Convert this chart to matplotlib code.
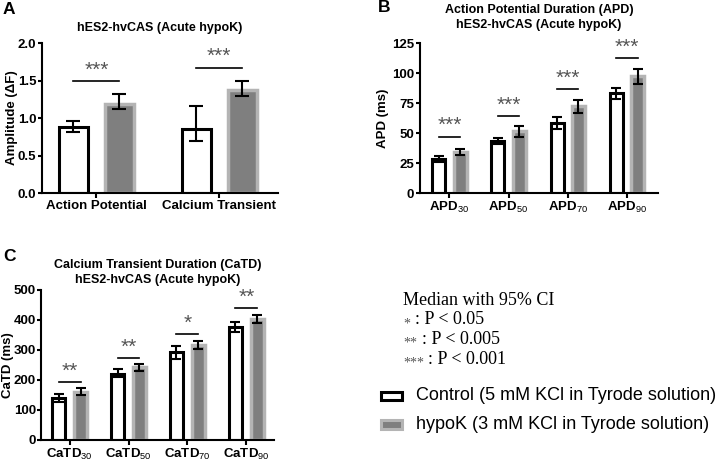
import matplotlib.pyplot as plt
import numpy as np
from matplotlib.patches import Rectangle

plt.rcParams['font.family'] = ['Liberation Sans', 'DejaVu Sans']
plt.rcParams['mathtext.fontset'] = 'custom'
plt.rcParams['mathtext.rm'] = 'Liberation Sans'
plt.rcParams['mathtext.it'] = 'Liberation Sans'
plt.rcParams['mathtext.bf'] = 'Liberation Sans:bold'

# panel A - amplitude
amp_groups = ['Action Potential', 'Calcium Transient']
amp_ctrl = [0.88, 0.85]
amp_ctrl_lo = [0.82, 0.70]
amp_ctrl_hi = [0.96, 1.16]
amp_hypo = [1.19, 1.37]
amp_hypo_lo = [1.12, 1.29]
amp_hypo_hi = [1.32, 1.50]
amp_sig = ['***', '***']
amp_sig_y = [1.49, 1.67]

# panel B - APD
apd_groups = ['APD$_{\\mathrm{30}}$', 'APD$_{\\mathrm{50}}$', 'APD$_{\\mathrm{70}}$', 'APD$_{\\mathrm{90}}$']
apd_ctrl = [28.5, 43, 58.5, 83]
apd_ctrl_lo = [26, 40.5, 53, 78]
apd_ctrl_hi = [31, 45.5, 63.5, 87.5]
apd_hypo = [34.5, 51.5, 72.5, 97.5]
apd_hypo_lo = [32, 47, 67, 91]
apd_hypo_hi = [37, 55.5, 77.5, 103.5]
apd_sig = ['***', '***', '***', '***']
apd_sig_y = [47, 64, 86.8, 112.5]

# panel C - CaTD
catd_groups = ['CaTD$_{\\mathrm{30}}$', 'CaTD$_{\\mathrm{50}}$', 'CaTD$_{\\mathrm{70}}$', 'CaTD$_{\\mathrm{90}}$']
catd_ctrl = [140, 220, 292, 377]
catd_ctrl_lo = [125, 208, 270, 360]
catd_ctrl_hi = [153, 235, 312, 392]
catd_hypo = [160, 242, 317, 403]
catd_hypo_lo = [148, 230, 302, 390]
catd_hypo_hi = [172, 253, 331, 417]
catd_sig = ['**', '**', '*', '**']
catd_sig_y = [193, 272, 352, 438]

HYPO = '#7f7f7f'
HYPO_EDGE = '#b4b4b4'
STAR = '#555555'


def panel(ax, groups, ctrl, clo, chi, hypo, hlo, hhi, sig, sigy, off, w, ylim, yticks,
          ylabel, title, xlim, cap=3.5, tpad=6, lpad=0):
    x = np.arange(len(groups))
    ax.bar(x - off, ctrl, w, color='white', edgecolor='black', linewidth=2.2, zorder=2)
    ax.bar(x + off, hypo, w, color=HYPO, edgecolor=HYPO_EDGE, linewidth=2.5, zorder=2)
    c = np.array(ctrl); h = np.array(hypo)
    ax.errorbar(x - off, c, yerr=[c - np.array(clo), np.array(chi) - c], fmt='none',
                ecolor='black', elinewidth=1.5, capsize=cap, capthick=1.5, zorder=3)
    ax.errorbar(x + off, h, yerr=[h - np.array(hlo), np.array(hhi) - h], fmt='none',
                ecolor='black', elinewidth=1.5, capsize=cap, capthick=1.5, zorder=3)
    for i in range(len(groups)):
        ax.plot([x[i] - off, x[i] + off], [sigy[i], sigy[i]], color='black', lw=1.2)
        ax.annotate(sig[i], (x[i], sigy[i]), xytext=(0, 4), textcoords='offset points',
                    ha='center', va='baseline', color=STAR, fontsize=15)
    ax.set_xlim(*xlim)
    ax.set_ylim(*ylim)
    ax.set_yticks(yticks)
    ax.set_xticks(x)
    ax.set_xticklabels(groups, fontweight='bold', fontsize=9.5)
    for t in ax.get_yticklabels():
        t.set_fontweight('bold')
        t.set_fontsize(9.5)
    ax.set_ylabel(ylabel, fontweight='bold', fontsize=9.5, labelpad=lpad)
    ax.set_title(title, fontweight='bold', fontsize=9, pad=tpad, linespacing=1.35)
    ax.spines['top'].set_visible(False)
    ax.spines['right'].set_visible(False)
    ax.spines['left'].set_linewidth(1.5)
    ax.spines['bottom'].set_linewidth(1.5)
    ax.tick_params(axis='y', width=1.5, length=3, pad=1)
    ax.tick_params(axis='x', width=1.5, length=3.5, pad=1.5)


fig = plt.figure(figsize=(7.25, 4.63), dpi=100)

axA = fig.add_axes([0.058, 0.583, 0.325, 0.324])
panel(axA, amp_groups, amp_ctrl, amp_ctrl_lo, amp_ctrl_hi, amp_hypo, amp_hypo_lo, amp_hypo_hi,
      amp_sig, amp_sig_y, 0.187, 0.236, (0, 2.0), [0, 0.5, 1.0, 1.5, 2.0],
      'Amplitude (ΔF)', 'hES2-hvCAS (Acute hypoK)', (-0.443, 1.476), cap=5, tpad=9)
axA.set_yticklabels(['0.0', '0.5', '1.0', '1.5', '2.0'], fontweight='bold', fontsize=9.5)

axB = fig.add_axes([0.579, 0.583, 0.329, 0.324])
panel(axB, apd_groups, apd_ctrl, apd_ctrl_lo, apd_ctrl_hi, apd_hypo, apd_hypo_lo, apd_hypo_hi,
      apd_sig, apd_sig_y, 0.18, 0.22, (0, 125), [0, 25, 50, 75, 100, 125],
      'APD (ms)', 'Action Potential Duration (APD)\nhES2-hvCAS (Acute hypoK)', (-0.5, 3.53),
      tpad=11, lpad=2)

axC = fig.add_axes([0.057, 0.05, 0.321, 0.324])
panel(axC, catd_groups, catd_ctrl, catd_ctrl_lo, catd_ctrl_hi, catd_hypo, catd_hypo_lo, catd_hypo_hi,
      catd_sig, catd_sig_y, 0.186, 0.21, (0, 500), [0, 100, 200, 300, 400, 500],
      'CaTD (ms)', 'Calcium Transient Duration (CaTD)\nhES2-hvCAS (Acute hypoK)', (-0.48, 3.47),
      tpad=5, lpad=0)

fig.text(0.004, 0.995, 'A', fontsize=12.5, fontweight='bold', va='top')
fig.text(0.521, 1.0, 'B', fontsize=12.5, fontweight='bold', va='top')
fig.text(0.004, 0.462, 'C', fontsize=12.5, fontweight='bold', va='top')

# legend block
serif = ['Liberation Serif', 'DejaVu Serif']
fig.text(0.556, 0.352, 'Median with 95% CI', family=serif, fontsize=13, va='center')
notes = [('*', ': P < 0.05'), ('**', ': P < 0.005'), ('***', ': P < 0.001')]
for k, (s, txt) in enumerate(notes):
    yy = 0.352 - 0.043 * (k + 1)
    fig.text(0.556, yy - 0.008, s, family=serif, fontsize=10, color=STAR, va='center')
    fig.text(0.556 + (len(s) * 6.5 + 5.5) / 725, yy, txt, family=serif, fontsize=13, va='center')

fig.patches.append(Rectangle((0.525, 0.135), 0.030, 0.019, transform=fig.transFigure,
                             facecolor='white', edgecolor='black', linewidth=2.2))
fig.patches.append(Rectangle((0.525, 0.074), 0.030, 0.019, transform=fig.transFigure,
                             facecolor=HYPO, edgecolor=HYPO_EDGE, linewidth=2.2))
fig.text(0.574, 0.145, 'Control (5 mM KCl in Tyrode solution)', fontsize=13, va='center')
fig.text(0.574, 0.084, 'hypoK (3 mM KCl in Tyrode solution)', fontsize=13, va='center')

fig.savefig('out.png', dpi=100)
